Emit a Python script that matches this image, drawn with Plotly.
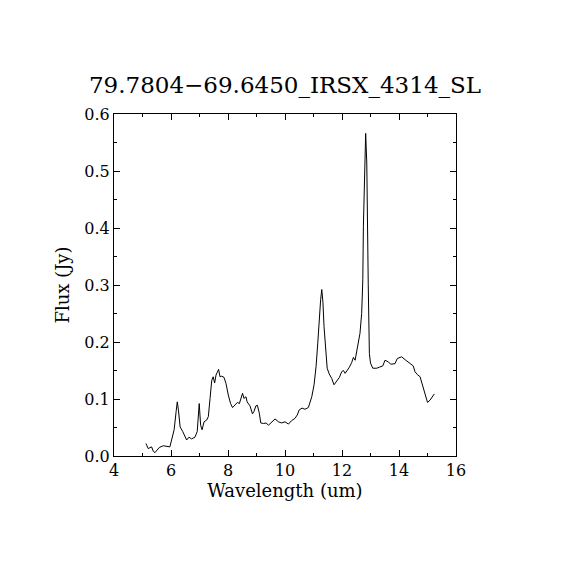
import plotly.graph_objects as go

wavelength = [5.12, 5.20, 5.32, 5.38, 5.44, 5.59, 5.73, 5.96, 6.02, 6.11, 6.18, 6.22, 6.26, 6.32,
              6.41, 6.55, 6.63, 6.72, 6.84, 6.92, 6.99, 7.04, 7.09, 7.16, 7.25, 7.31, 7.37, 7.43,
              7.48, 7.53, 7.58, 7.62, 7.67, 7.72, 7.78, 7.86, 7.93, 8.01, 8.09, 8.16, 8.25, 8.33,
              8.40, 8.44, 8.51, 8.56, 8.63, 8.67, 8.77, 8.86, 8.91, 8.98, 9.03, 9.10, 9.15, 9.25,
              9.34, 9.42, 9.54, 9.65, 9.77, 9.88, 10.00, 10.12, 10.23, 10.35, 10.43, 10.50, 10.60,
              10.70, 10.82, 10.94, 11.02, 11.09, 11.15, 11.20, 11.25, 11.29, 11.33, 11.37, 11.43,
              11.48, 11.55, 11.64, 11.72, 11.81, 11.91, 11.99, 12.05, 12.11, 12.19, 12.26, 12.34,
              12.40, 12.46, 12.51, 12.59, 12.63, 12.69, 12.73, 12.75, 12.80, 12.83, 12.87, 12.89,
              12.92, 12.96, 13.00, 13.08, 13.22, 13.32, 13.43, 13.51, 13.63, 13.71, 13.86, 13.94,
              14.09, 14.24, 14.39, 14.50, 14.56, 14.64, 14.74, 14.83, 14.91, 15.00, 15.09, 15.17,
              15.24]
flux = [0.022, 0.013, 0.016, 0.008, 0.006, 0.015, 0.018, 0.016, 0.028, 0.046, 0.078, 0.095, 0.081, 0.051,
        0.043, 0.028, 0.033, 0.030, 0.033, 0.043, 0.092, 0.054, 0.046, 0.060, 0.063, 0.069, 0.101, 0.133,
        0.139, 0.128, 0.142, 0.148, 0.152, 0.139, 0.140, 0.138, 0.127, 0.107, 0.092, 0.085, 0.089, 0.094,
        0.092, 0.098, 0.110, 0.101, 0.104, 0.095, 0.088, 0.074, 0.078, 0.088, 0.089, 0.075, 0.058, 0.057,
        0.058, 0.054, 0.060, 0.065, 0.060, 0.058, 0.060, 0.056, 0.062, 0.066, 0.072, 0.081, 0.084,
        0.082, 0.085, 0.104, 0.125, 0.157, 0.198, 0.244, 0.274, 0.292, 0.270, 0.227, 0.189,
        0.154, 0.144, 0.136, 0.125, 0.132, 0.138, 0.148, 0.150, 0.145, 0.150, 0.156, 0.164,
        0.173, 0.168, 0.180, 0.200, 0.215, 0.250, 0.309, 0.402, 0.508, 0.566, 0.514, 0.396,
        0.303, 0.180, 0.163, 0.154, 0.154, 0.156, 0.158, 0.168, 0.165, 0.161, 0.162, 0.171,
        0.174, 0.168, 0.163, 0.158, 0.148, 0.143, 0.139, 0.122, 0.110, 0.094, 0.098, 0.105,
        0.109]

x_ticks = [4, 6, 8, 10, 12, 14, 16]
y_ticks = [0.0, 0.1, 0.2, 0.3, 0.4, 0.5, 0.6]
y_tick_labels = ["0.0", "0.1", "0.2", "0.3", "0.4", "0.5", "0.6"]
title_text = "79.7804\u221269.6450_IRSX_4314_SL"

serif = "DejaVu Serif"

fig = go.Figure()
fig.add_trace(go.Scatter(x=wavelength, y=flux, mode="lines",
                         line=dict(color="black", width=1), showlegend=False))

axis_common = dict(
    showgrid=False, zeroline=False, showline=True, linecolor="black", linewidth=1,
    mirror="ticks", ticks="inside", ticklen=6, tickwidth=1, tickcolor="black",
    tickfont=dict(family=serif, size=16, color="black"),
)

fig.update_xaxes(range=[4, 16], tickvals=x_ticks,
                 minor=dict(dtick=1, tick0=4, ticklen=3, ticks="inside", tickcolor="black"),
                 title=dict(text="Wavelength (um)", font=dict(family=serif, size=18, color="black"),
                            standoff=2),
                 **axis_common)
fig.update_yaxes(range=[0, 0.6], tickvals=y_ticks, ticktext=y_tick_labels,
                 minor=dict(dtick=0.05, tick0=0, ticklen=3, ticks="inside", tickcolor="black"),
                 title=dict(text="Flux (Jy)", font=dict(family=serif, size=18, color="black"),
                            standoff=10),
                 **axis_common)

fig.update_layout(
    width=570, height=570,
    margin=dict(l=106, r=122, t=106, b=122),
    paper_bgcolor="white", plot_bgcolor="white",
    title=dict(text=title_text, x=(106 + 171) / 570, xanchor="center", y=1 - 77 / 570, yanchor="middle",
               font=dict(family=serif, size=23, color="black")),
)

fig.write_html("out.html")
